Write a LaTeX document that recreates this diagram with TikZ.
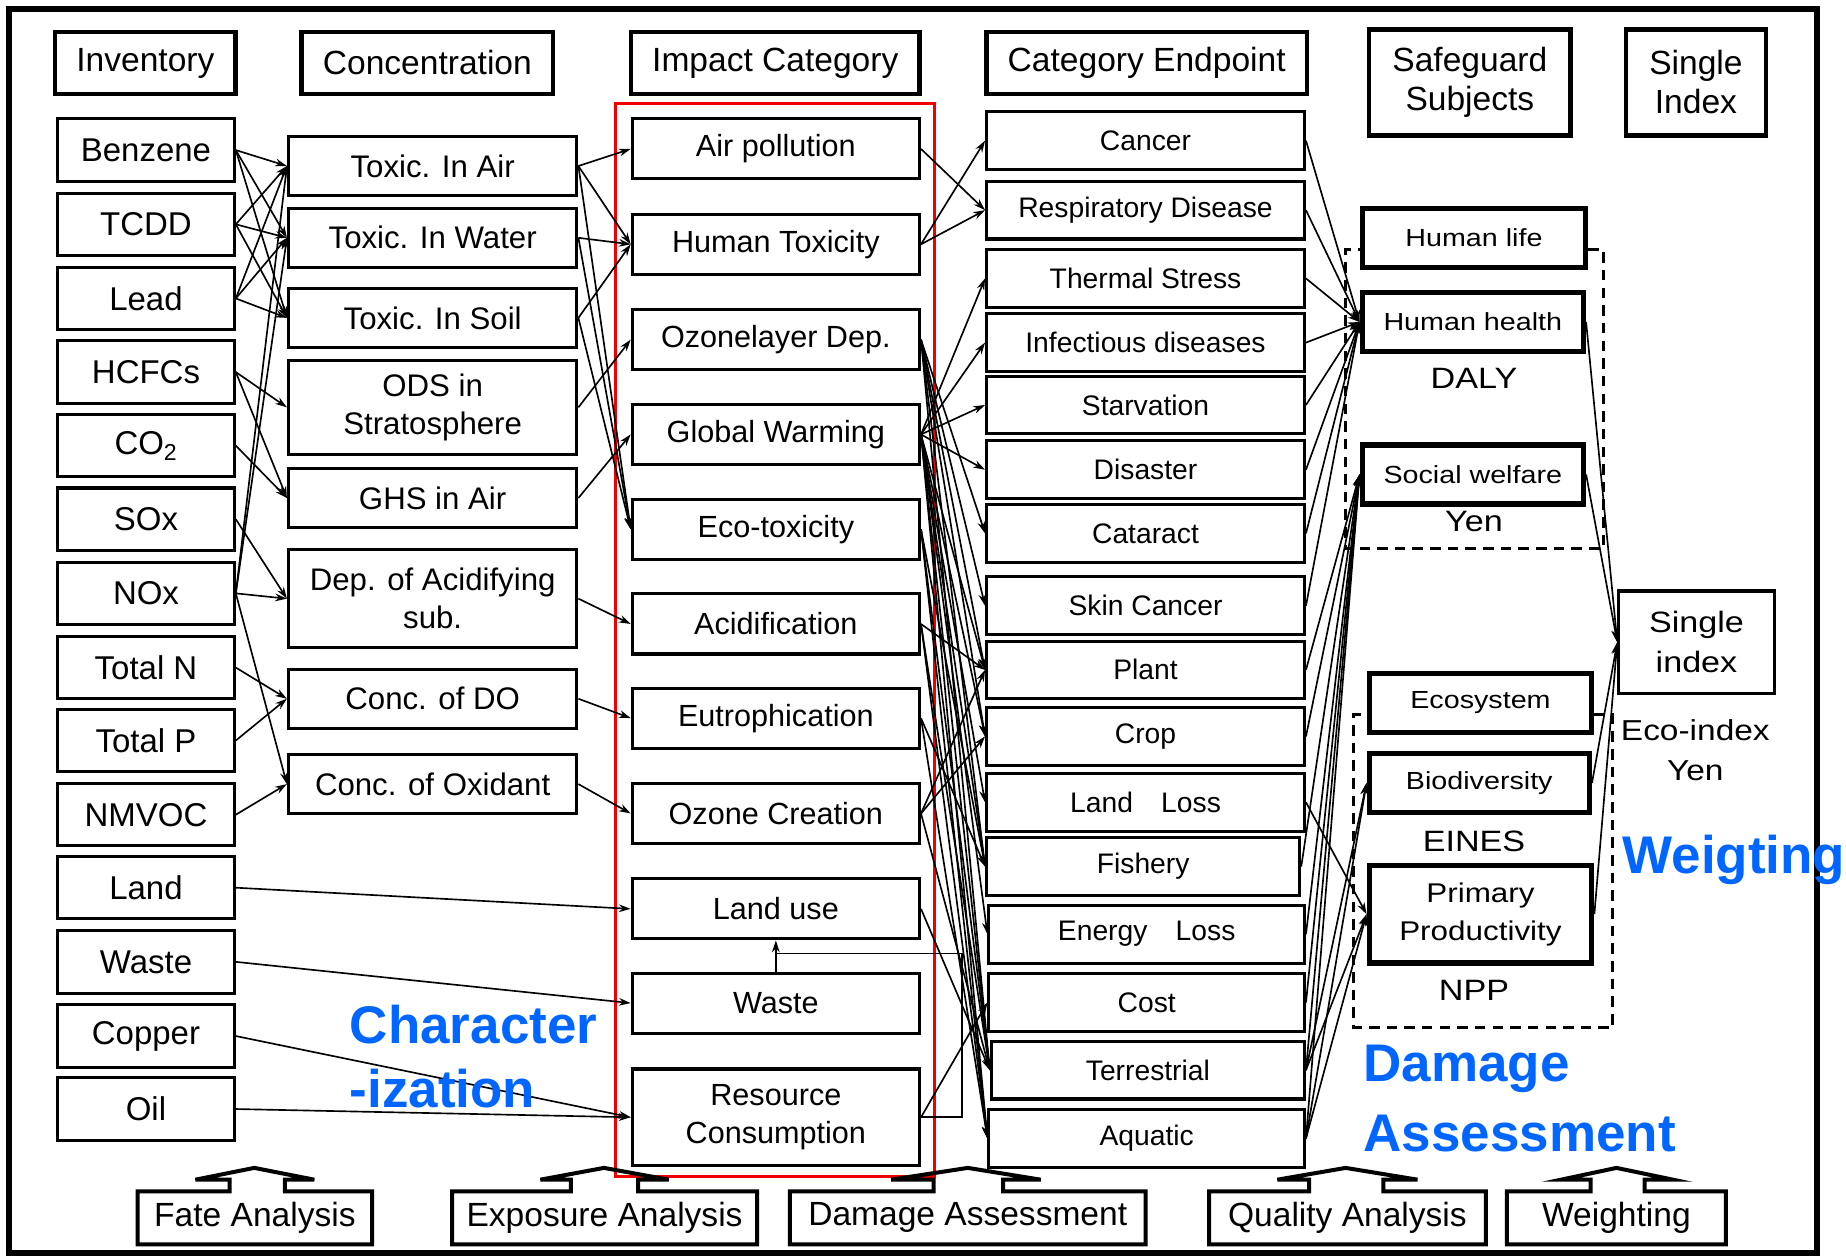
\documentclass[tikz,border=0pt]{standalone}
\usepackage{fontspec}
\setmainfont{Liberation Sans}
\newfontfamily\widefont{Liberation Sans}[FakeStretch=1.16]
\usetikzlibrary{arrows.meta}
\definecolor{labelblue}{RGB}{0,102,255}
\definecolor{framered}{RGB}{240,0,0}

\tikzset{
  basebox/.style={draw, inner sep=0pt, align=center},
  hdr/.style={basebox, line width=3.6pt, minimum height=53pt, font=\fontsize{28.5}{33}\selectfont},
  inv/.style={basebox, line width=2.6pt, minimum width=150pt, minimum height=53pt, font=\fontsize{28}{32}\selectfont},
  con/.style={basebox, line width=2.6pt, minimum width=245pt, minimum height=50pt, font=\fontsize{26.5}{32}\selectfont},
  imp/.style={basebox, line width=2.6pt, minimum width=244pt, minimum height=51pt, font=\fontsize{26}{32}\selectfont},
  ept/.style={basebox, line width=2.6pt, minimum width=270pt, minimum height=49pt, font=\fontsize{24}{28}\selectfont},
  sg/.style={basebox, line width=4.5pt, minimum width=190pt, minimum height=50pt, font=\widefont\fontsize{21}{29}\selectfont},
  unitlbl/.style={inner sep=0pt, font=\widefont\fontsize{25}{29}\selectfont},
  bluelbl/.style={inner sep=0pt, anchor=west, text=labelblue, font=\bfseries\fontsize{45}{50}\selectfont},
  steplbl/.style={inner sep=0pt, font=\fontsize{28.5}{32}\selectfont},
  stepshape/.style={line width=3.4pt, line join=miter},
  arr/.style={line width=1.4pt, -{Stealth[length=10pt,width=6.5pt]}},
  link/.style={line width=1.4pt},
  grp/.style={line width=2.6pt, dash pattern=on 9pt off 6pt},
}

% outline of a step box: box with an up-arrow growing out of its top
% #1 left, #2 right, #3 shaft left, #4 shaft right, #5 wing left, #6 wing right, #7 peak x
\newcommand\stepoutline[7]{%
  \draw[stepshape] (#1,1012) -- (#3,1012) -- (#3,1002) -- (#5,1002) -- (#7,992)
    -- (#6,1002) -- (#4,1002) -- (#4,1012) -- (#2,1012) -- (#2,1057) -- (#1,1057) -- cycle;}

\begin{document}
\begin{tikzpicture}[x=1pt,y=-1pt]
\useasboundingbox (0,0) rectangle (1568,1069);
\fill[white] (0,0) rectangle (1568,1069);
\draw[line width=5pt] (8,8) rectangle (1543,1064);

% column headers
\node[hdr, minimum width=153pt] (hinv) at (123.5,53.5) {Inventory};
\node[hdr, minimum width=214pt] (hcon) at (363,53.5) {Concentration};
\node[hdr, minimum width=245pt] (himp) at (658.5,53.5) {Impact Category};
\node[hdr, minimum width=272pt] (hept) at (974,53.5) {Category Endpoint};
\node[hdr, minimum width=171pt, minimum height=90pt] (hsg) at (1248.5,70) {Safeguard\\Subjects};
\node[hdr, minimum width=119pt, minimum height=90pt] (hsi) at (1440.5,70) {Single\\Index};

% inventory
\node[inv] (benz)   at (124,127.5) {Benzene};
\node[inv] (tcdd)   at (124,190.5) {TCDD};
\node[inv] (lead)   at (124,253.5) {Lead};
\node[inv] (hcfc)   at (124,316)   {HCFCs};
\node[inv] (co2)    at (124,378.5) {CO\textsubscript{2}};
\node[inv] (sox)    at (124,441)   {SOx};
\node[inv] (nox)    at (124,504)   {NOx};
\node[inv] (totn)   at (124,567)   {Total N};
\node[inv] (totp)   at (124,629)   {Total P};
\node[inv] (nmvoc)  at (124,692)   {NMVOC};
\node[inv] (land)   at (124,754)   {Land};
\node[inv] (wastei) at (124,817)   {Waste};
\node[inv] (copper) at (124,880)   {Copper};
\node[inv] (oil)    at (124,942)   {Oil};

% concentration
\node[con] (tair)  at (367.5,141) {Toxic. In Air};
\node[con] (twat)  at (367.5,202) {Toxic. In Water};
\node[con] (tsoil) at (367.5,270) {Toxic. In Soil};
\node[con, minimum height=80pt] (ods) at (367.5,346) {ODS in\\Stratosphere};
\node[con] (ghs)   at (367.5,423) {GHS in Air};
\node[con, minimum height=83pt] (dep) at (367.5,508.5) {Dep. of Acidifying\\sub.};
\node[con] (cdo)   at (367.5,593.5) {Conc. of DO};
\node[con] (cox)   at (367.5,666) {Conc. of Oxidant};

% impact categories
\draw[framered, line width=2.6pt] (523,88) rectangle (794,999);
\node[imp] (air)   at (659,126.5) {Air pollution};
\node[imp] (htox)  at (659,207.5) {Human Toxicity};
\node[imp] (ozl)   at (659,288.5) {Ozonelayer Dep.};
\node[imp] (gw)    at (659,369)   {Global Warming};
\node[imp] (eco)   at (659,449.5) {Eco-toxicity};
\node[imp] (acid)  at (659,530)   {Acidification};
\node[imp] (eutro) at (659,610)   {Eutrophication};
\node[imp] (ozc)   at (659,691)   {Ozone Creation};
\node[imp] (luse)  at (659,772)   {Land use};
\node[imp] (wst)   at (659,852)   {Waste};
\node[imp, minimum height=82pt] (rc) at (659,949) {Resource\\Consumption};

% category endpoints
\node[ept] (canc)  at (973,119.5) {Cancer};
\node[ept] (resp)  at (973,178.5) {Respiratory Disease};
\node[ept] (therm) at (973,236.5) {Thermal Stress};
\node[ept] (infd)  at (973,291)   {Infectious diseases};
\node[ept] (starv) at (973,344)   {Starvation};
\node[ept] (dis)   at (973,399)   {Disaster};
\node[ept] (cat)   at (973,453)   {Cataract};
\node[ept] (skin)  at (973,514.5) {Skin Cancer};
\node[ept] (plant) at (973,569)   {Plant};
\node[ept] (crop)  at (973,625.5) {Crop};
\node[ept] (lloss) at (973,681.5) {Land\quad Loss};
\node[ept, minimum width=266pt] (fish)  at (971,736)   {Fishery};
\node[ept, minimum width=268pt] (eloss) at (974,793.5) {Energy\quad Loss};
\node[ept, minimum width=268pt] (cost)  at (974,851.5) {Cost};
\node[ept, minimum width=266pt] (terr)  at (975,909)   {Terrestrial};
\node[ept, minimum width=268pt] (aqua)  at (974,967)   {Aquatic};

% safeguard subjects
\node[sg] (hlife)  at (1252,202)   {Human life};
\node[sg, minimum width=188pt] (hheal) at (1251,273.5) {Human health};
\node[unitlbl] (daly) at (1252,321) {DALY};
\node[sg, minimum width=188pt] (swel)  at (1251,403)   {Social welfare};
\node[unitlbl] (yen1) at (1252,443) {Yen};
\node[sg, minimum width=189pt] (ecos)  at (1257.5,597) {Ecosystem};
\node[sg, minimum width=187pt] (biod)  at (1256.5,665) {Biodiversity};
\node[unitlbl] (eines) at (1252,715) {EINES};
\node[sg, minimum width=189pt, minimum height=83pt, font=\widefont\fontsize{23}{32}\selectfont] (pp) at (1257.5,776.5) {Primary\\Productivity};
\node[unitlbl] (npp) at (1252,841) {NPP};

% single index
\node[basebox, line width=2.6pt, minimum width=132pt, minimum height=87pt, font=\widefont\fontsize{25}{34}\selectfont] (sidx) at (1441,545.5) {Single\\index};
\node[unitlbl, align=center, font=\widefont\fontsize{24.5}{34}\selectfont] (ecoidx) at (1440,637) {Eco-index\\Yen};

% dashed groupings
\draw[grp] (hlife.east |- 0,212) -- (1362,212) -- (1362,466) -- (1143,466) -- (1143,212) -- (hlife.west |- 0,212);
\draw[grp] (ecos.east |- 0,607) -- (1370,607) -- (1370,873) -- (1150,873) -- (1150,607) -- (ecos.west |- 0,607);

% inventory -> concentration
\foreach \s in {benz,tcdd,lead}{
  \foreach \t in {tair,twat,tsoil}{ \draw[arr] (\s.east) -- (\t.west); }}
\draw[arr] (hcfc.east) -- (ods.west);
\draw[arr] (hcfc.east) -- (ghs.west);
\draw[arr] (co2.east) -- (ghs.west);
\draw[arr] (nox.east) -- (tair.west);
\draw[arr] (nox.east) -- (twat.west);
\draw[arr] (sox.east) -- (dep.west);
\draw[arr] (nox.east) -- (dep.west);
\draw[arr] (nox.east) -- (cox.west);
\draw[arr] (totn.east) -- (cdo.west);
\draw[arr] (totp.east) -- (cdo.west);
\draw[arr] (nmvoc.east) -- (cox.west);
\draw[arr] (land.east) -- (luse.west);
\draw[arr] (wastei.east) -- (wst.west);
\draw[arr] (copper.east) -- (rc.west);
\draw[arr] (oil.east) -- (rc.west);

% concentration -> impact category
\draw[arr] (tair.east) -- (air.west);
\foreach \s in {tair,twat,tsoil}{
  \draw[arr] (\s.east) -- (htox.west);
  \draw[arr] (\s.east) -- (eco.west);}
\draw[arr] (ods.east) -- (ozl.west);
\draw[arr] (ghs.east) -- (gw.west);
\draw[arr] (dep.east) -- (acid.west);
\draw[arr] (cdo.east) -- (eutro.west);
\draw[arr] (cox.east) -- (ozc.west);

% waste and resource consumption feed back into land use
\coordinate (rcturn) at (817,810);
\coordinate (lujoin) at (659,810);
\draw[link] (rc.east) -| (rcturn) -- (lujoin);
\draw[arr] (wst.north) -- (luse.south);

% impact category -> category endpoint
\draw[arr] (air.east) -- (resp.west);
\draw[arr] (htox.east) -- (canc.west);
\draw[arr] (htox.east) -- (resp.west);
\foreach \t in {cat,skin,plant,crop,fish,terr}{ \draw[arr] (ozl.east) -- (\t.west); }
\foreach \t in {therm,infd,starv,dis,plant,crop,lloss,fish,eloss,terr,aqua}{ \draw[arr] (gw.east) -- (\t.west); }
\foreach \t in {fish,terr,aqua}{ \draw[arr] (eco.east) -- (\t.west); }
\foreach \t in {plant,terr,aqua}{ \draw[arr] (acid.east) -- (\t.west); }
\foreach \t in {fish,aqua}{ \draw[arr] (eutro.east) -- (\t.west); }
\foreach \t in {plant,crop,terr}{ \draw[arr] (ozc.east) -- (\t.west); }
\draw[arr] (luse.east) -- (terr.west);
\draw[arr] (rc.east) -- (cost.west);

% category endpoint -> safeguard subjects
\foreach \s in {canc,resp,therm,infd,starv,dis,cat,skin}{ \draw[arr] (\s.east) -- (hheal.west); }
\foreach \s in {plant,crop,fish,eloss,cost,terr,aqua}{ \draw[arr] (\s.east) -- (swel.west); }
\foreach \s in {terr,aqua}{
  \draw[arr] (\s.east) -- (biod.west);
  \draw[arr] (\s.east) -- (pp.west);}
\draw[arr] (lloss.east) -- (pp.west);

% safeguard subjects -> single index
\foreach \s in {hheal,swel,biod,pp}{ \draw[arr] (\s.east) -- (sidx.west); }

% stage labels
\node[bluelbl] (charA) at (297,870) {Character};
\node[bluelbl] (charB) at (297,925) {-ization};
\node[bluelbl] (dmgA) at (1158,908) {Damage};
\node[bluelbl] (dmgB) at (1158,963) {Assessment};
\node[bluelbl] (wgt) at (1378,730) {Weigting};

% analysis steps along the bottom
\stepoutline{117}{316}{195}{242}{166}{267}{216}
\node[steplbl] (fate) at (216.5,1034.5) {Fate Analysis};
\stepoutline{384}{643}{485}{542}{459}{568}{513}
\node[steplbl] (expo) at (513.5,1034.5) {Exposure Analysis};
\stepoutline{671}{973}{793}{852}{757}{884}{822}
\node[steplbl] (dmga) at (822,1034.5) {Damage Assessment};
\stepoutline{1027}{1262}{1112}{1175}{1085}{1204}{1143}
\node[steplbl] (qual) at (1144.5,1034.5) {Quality Analysis};
\stepoutline{1280}{1466}{1351}{1397}{1326}{1421}{1373}
\node[steplbl] (wght) at (1373,1034.5) {Weighting};
\end{tikzpicture}
\end{document}
